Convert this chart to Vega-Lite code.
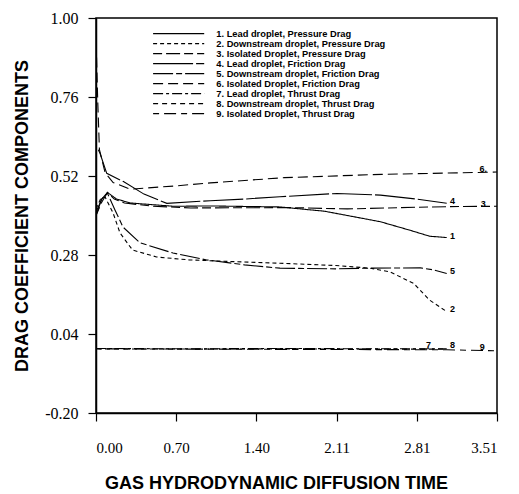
{
  "$schema": "https://vega.github.io/schema/vega-lite/v6.json",
  "autosize": {"type": "none"},
  "width": 401,
  "height": 395,
  "padding": {"left": 96, "top": 18, "right": 22, "bottom": 81},
  "background": "white",
  "config": {
    "view": {"stroke": "black", "strokeWidth": 1.5},
    "axis": {"domainColor": "black", "domainWidth": 1.5, "tickColor": "black", "tickWidth": 1.2, "grid": false, "labelFont": "Liberation Serif", "labelColor": "black", "titleFont": "Liberation Sans", "titleFontWeight": "bold", "titleColor": "black"}
  },
  "datasets": {
    "curves": [
      {"s": "1. Lead droplet, Pressure Drag", "x": 0.0, "y": 0.41},
      {"s": "1. Lead droplet, Pressure Drag", "x": 0.05, "y": 0.45},
      {"s": "1. Lead droplet, Pressure Drag", "x": 0.1, "y": 0.47},
      {"s": "1. Lead droplet, Pressure Drag", "x": 0.18, "y": 0.45},
      {"s": "1. Lead droplet, Pressure Drag", "x": 0.3, "y": 0.438},
      {"s": "1. Lead droplet, Pressure Drag", "x": 0.68, "y": 0.428},
      {"s": "1. Lead droplet, Pressure Drag", "x": 1.0, "y": 0.429},
      {"s": "1. Lead droplet, Pressure Drag", "x": 1.61, "y": 0.426},
      {"s": "1. Lead droplet, Pressure Drag", "x": 2.0, "y": 0.413},
      {"s": "1. Lead droplet, Pressure Drag", "x": 2.2, "y": 0.4},
      {"s": "1. Lead droplet, Pressure Drag", "x": 2.49, "y": 0.381},
      {"s": "1. Lead droplet, Pressure Drag", "x": 2.75, "y": 0.355},
      {"s": "1. Lead droplet, Pressure Drag", "x": 2.92, "y": 0.337},
      {"s": "1. Lead droplet, Pressure Drag", "x": 3.07, "y": 0.333},
      {"s": "2. Downstream droplet, Pressure Drag", "x": 0.0, "y": 0.42},
      {"s": "2. Downstream droplet, Pressure Drag", "x": 0.04, "y": 0.45},
      {"s": "2. Downstream droplet, Pressure Drag", "x": 0.08, "y": 0.456},
      {"s": "2. Downstream droplet, Pressure Drag", "x": 0.149, "y": 0.408},
      {"s": "2. Downstream droplet, Pressure Drag", "x": 0.21, "y": 0.347},
      {"s": "2. Downstream droplet, Pressure Drag", "x": 0.32, "y": 0.295},
      {"s": "2. Downstream droplet, Pressure Drag", "x": 0.53, "y": 0.274},
      {"s": "2. Downstream droplet, Pressure Drag", "x": 0.82, "y": 0.265},
      {"s": "2. Downstream droplet, Pressure Drag", "x": 1.2, "y": 0.26},
      {"s": "2. Downstream droplet, Pressure Drag", "x": 1.61, "y": 0.255},
      {"s": "2. Downstream droplet, Pressure Drag", "x": 2.1, "y": 0.248},
      {"s": "2. Downstream droplet, Pressure Drag", "x": 2.4, "y": 0.24},
      {"s": "2. Downstream droplet, Pressure Drag", "x": 2.57, "y": 0.229},
      {"s": "2. Downstream droplet, Pressure Drag", "x": 2.78, "y": 0.194},
      {"s": "2. Downstream droplet, Pressure Drag", "x": 2.92, "y": 0.143},
      {"s": "2. Downstream droplet, Pressure Drag", "x": 3.07, "y": 0.108},
      {"s": "3. Isolated Droplet, Pressure Drag", "x": 0.0, "y": 0.4},
      {"s": "3. Isolated Droplet, Pressure Drag", "x": 0.05, "y": 0.44},
      {"s": "3. Isolated Droplet, Pressure Drag", "x": 0.1, "y": 0.47},
      {"s": "3. Isolated Droplet, Pressure Drag", "x": 0.16, "y": 0.45},
      {"s": "3. Isolated Droplet, Pressure Drag", "x": 0.25, "y": 0.438},
      {"s": "3. Isolated Droplet, Pressure Drag", "x": 0.5, "y": 0.428},
      {"s": "3. Isolated Droplet, Pressure Drag", "x": 0.83, "y": 0.423},
      {"s": "3. Isolated Droplet, Pressure Drag", "x": 1.7, "y": 0.424},
      {"s": "3. Isolated Droplet, Pressure Drag", "x": 2.2, "y": 0.42},
      {"s": "3. Isolated Droplet, Pressure Drag", "x": 2.8, "y": 0.425},
      {"s": "3. Isolated Droplet, Pressure Drag", "x": 3.1, "y": 0.427},
      {"s": "3. Isolated Droplet, Pressure Drag", "x": 3.51, "y": 0.428},
      {"s": "4. Lead droplet, Friction Drag", "x": 0.02, "y": 0.6},
      {"s": "4. Lead droplet, Friction Drag", "x": 0.035, "y": 0.589},
      {"s": "4. Lead droplet, Friction Drag", "x": 0.094, "y": 0.528},
      {"s": "4. Lead droplet, Friction Drag", "x": 0.24, "y": 0.503},
      {"s": "4. Lead droplet, Friction Drag", "x": 0.42, "y": 0.465},
      {"s": "4. Lead droplet, Friction Drag", "x": 0.62, "y": 0.437},
      {"s": "4. Lead droplet, Friction Drag", "x": 1.0, "y": 0.445},
      {"s": "4. Lead droplet, Friction Drag", "x": 1.3, "y": 0.45},
      {"s": "4. Lead droplet, Friction Drag", "x": 1.61, "y": 0.457},
      {"s": "4. Lead droplet, Friction Drag", "x": 2.11, "y": 0.467},
      {"s": "4. Lead droplet, Friction Drag", "x": 2.49, "y": 0.462},
      {"s": "4. Lead droplet, Friction Drag", "x": 2.8, "y": 0.45},
      {"s": "4. Lead droplet, Friction Drag", "x": 3.07, "y": 0.437},
      {"s": "5. Downstream droplet, Friction Drag", "x": 0.0, "y": 0.4},
      {"s": "5. Downstream droplet, Friction Drag", "x": 0.05, "y": 0.45},
      {"s": "5. Downstream droplet, Friction Drag", "x": 0.1, "y": 0.468},
      {"s": "5. Downstream droplet, Friction Drag", "x": 0.166, "y": 0.417},
      {"s": "5. Downstream droplet, Friction Drag", "x": 0.236, "y": 0.365},
      {"s": "5. Downstream droplet, Friction Drag", "x": 0.385, "y": 0.317},
      {"s": "5. Downstream droplet, Friction Drag", "x": 0.674, "y": 0.286},
      {"s": "5. Downstream droplet, Friction Drag", "x": 0.97, "y": 0.265},
      {"s": "5. Downstream droplet, Friction Drag", "x": 1.3, "y": 0.25},
      {"s": "5. Downstream droplet, Friction Drag", "x": 1.61, "y": 0.24},
      {"s": "5. Downstream droplet, Friction Drag", "x": 2.1, "y": 0.238},
      {"s": "5. Downstream droplet, Friction Drag", "x": 2.4, "y": 0.24},
      {"s": "5. Downstream droplet, Friction Drag", "x": 2.84, "y": 0.241},
      {"s": "5. Downstream droplet, Friction Drag", "x": 2.95, "y": 0.235},
      {"s": "5. Downstream droplet, Friction Drag", "x": 3.07, "y": 0.224},
      {"s": "6. Isolated Droplet, Friction Drag", "x": 0.005, "y": 0.88},
      {"s": "6. Isolated Droplet, Friction Drag", "x": 0.015, "y": 0.75},
      {"s": "6. Isolated Droplet, Friction Drag", "x": 0.03, "y": 0.6},
      {"s": "6. Isolated Droplet, Friction Drag", "x": 0.08, "y": 0.53},
      {"s": "6. Isolated Droplet, Friction Drag", "x": 0.15, "y": 0.5},
      {"s": "6. Isolated Droplet, Friction Drag", "x": 0.3, "y": 0.48},
      {"s": "6. Isolated Droplet, Friction Drag", "x": 0.7, "y": 0.49},
      {"s": "6. Isolated Droplet, Friction Drag", "x": 1.0, "y": 0.499},
      {"s": "6. Isolated Droplet, Friction Drag", "x": 1.65, "y": 0.515},
      {"s": "6. Isolated Droplet, Friction Drag", "x": 2.5, "y": 0.525},
      {"s": "6. Isolated Droplet, Friction Drag", "x": 3.51, "y": 0.532},
      {"s": "7. Lead droplet, Thrust Drag", "x": 0.0, "y": -0.004},
      {"s": "7. Lead droplet, Thrust Drag", "x": 0.8, "y": -0.005},
      {"s": "7. Lead droplet, Thrust Drag", "x": 1.6, "y": -0.004},
      {"s": "7. Lead droplet, Thrust Drag", "x": 2.5, "y": -0.005},
      {"s": "7. Lead droplet, Thrust Drag", "x": 3.07, "y": -0.005},
      {"s": "8. Downstream droplet, Thrust Drag", "x": 0.0, "y": -0.005},
      {"s": "8. Downstream droplet, Thrust Drag", "x": 0.8, "y": -0.006},
      {"s": "8. Downstream droplet, Thrust Drag", "x": 1.6, "y": -0.005},
      {"s": "8. Downstream droplet, Thrust Drag", "x": 2.5, "y": -0.006},
      {"s": "8. Downstream droplet, Thrust Drag", "x": 3.07, "y": -0.006},
      {"s": "9. Isolated Droplet, Thrust Drag", "x": 0.0, "y": -0.005},
      {"s": "9. Isolated Droplet, Thrust Drag", "x": 1.0, "y": -0.006},
      {"s": "9. Isolated Droplet, Thrust Drag", "x": 2.0, "y": -0.007},
      {"s": "9. Isolated Droplet, Thrust Drag", "x": 3.07, "y": -0.008},
      {"s": "9. Isolated Droplet, Thrust Drag", "x": 3.51, "y": -0.011}
    ],
    "labels": [
      {"t": "6.", "x": 3.39, "y": 0.541},
      {"t": "4", "x": 3.12, "y": 0.444},
      {"t": "3", "x": 3.39, "y": 0.435},
      {"t": "1", "x": 3.12, "y": 0.338},
      {"t": "5", "x": 3.12, "y": 0.231},
      {"t": "2", "x": 3.12, "y": 0.116},
      {"t": "7", "x": 2.91, "y": 0.006},
      {"t": "8", "x": 3.12, "y": 0.006},
      {"t": "9", "x": 3.38, "y": 0.002}
    ]
  },
  "layer": [
    {
      "data": {"name": "curves"},
      "mark": {"type": "line", "color": "black", "strokeWidth": 1.1, "clip": true},
      "encoding": {
        "x": {"field": "x", "type": "quantitative",
          "scale": {"domain": [0, 3.51], "nice": false, "zero": false},
          "axis": {"values": [0, 0.702, 1.404, 2.106, 2.808, 3.51], "format": ".2f", "labelFontSize": 15, "tickSize": 8, "labelPadding": 19, "labelBaseline": "top",
            "title": "GAS HYDRODYNAMIC DIFFUSION TIME", "titleFontSize": 18, "titleX": 180, "titleY": 70, "titleBaseline": "middle", "titleAnchor": "middle"}},
        "y": {"field": "y", "type": "quantitative",
          "scale": {"domain": [-0.2, 1.0], "nice": false, "zero": false},
          "axis": {"values": [-0.2, 0.04, 0.28, 0.52, 0.76, 1.0], "labelExpr": "replace(format(datum.value, '.2f'), '\u2212', '-')", "labelFontSize": 16, "tickSize": 8, "labelPadding": 10,
            "title": "DRAG COEFFICIENT COMPONENTS", "titleFontSize": 18, "titleX": -74, "titleY": 197.5, "titleAngle": -90, "titleBaseline": "middle", "titleAnchor": "middle"}},
        "detail": {"field": "s"},
        "strokeDash": {"field": "s", "type": "nominal",
          "scale": {
            "domain": ["1. Lead droplet, Pressure Drag", "2. Downstream droplet, Pressure Drag", "3. Isolated Droplet, Pressure Drag", "4. Lead droplet, Friction Drag", "5. Downstream droplet, Friction Drag", "6. Isolated Droplet, Friction Drag", "7. Lead droplet, Thrust Drag", "8. Downstream droplet, Thrust Drag", "9. Isolated Droplet, Thrust Drag"],
            "range": [[1, 0], [4, 3], [9, 4, 14, 4], [40, 3], [20, 3, 6, 3], [10, 5], [10, 3, 3, 3], [5, 4], [6, 5, 12, 5]]
          },
          "legend": {"orient": "none", "legendX": 78, "legendY": 11, "title": null, "padding": 0,
            "symbolType": "M-7.3,0H7.3", "symbolSize": 49, "symbolStrokeColor": "black", "symbolFillColor": "transparent", "symbolStrokeWidth": 1.1,
            "labelFont": "Liberation Sans", "labelFontWeight": "bold", "labelFontSize": 9.3, "labelColor": "black", "labelOffset": 33, "rowPadding": -1.1, "labelLimit": 300}
        }
      }
    },
    {
      "data": {"name": "labels"},
      "mark": {"type": "text", "font": "Liberation Sans", "fontWeight": "bold", "fontSize": 9, "color": "black", "align": "center", "baseline": "middle"},
      "encoding": {
        "x": {"field": "x", "type": "quantitative"},
        "y": {"field": "y", "type": "quantitative"},
        "text": {"field": "t"}
      }
    }
  ]
}
